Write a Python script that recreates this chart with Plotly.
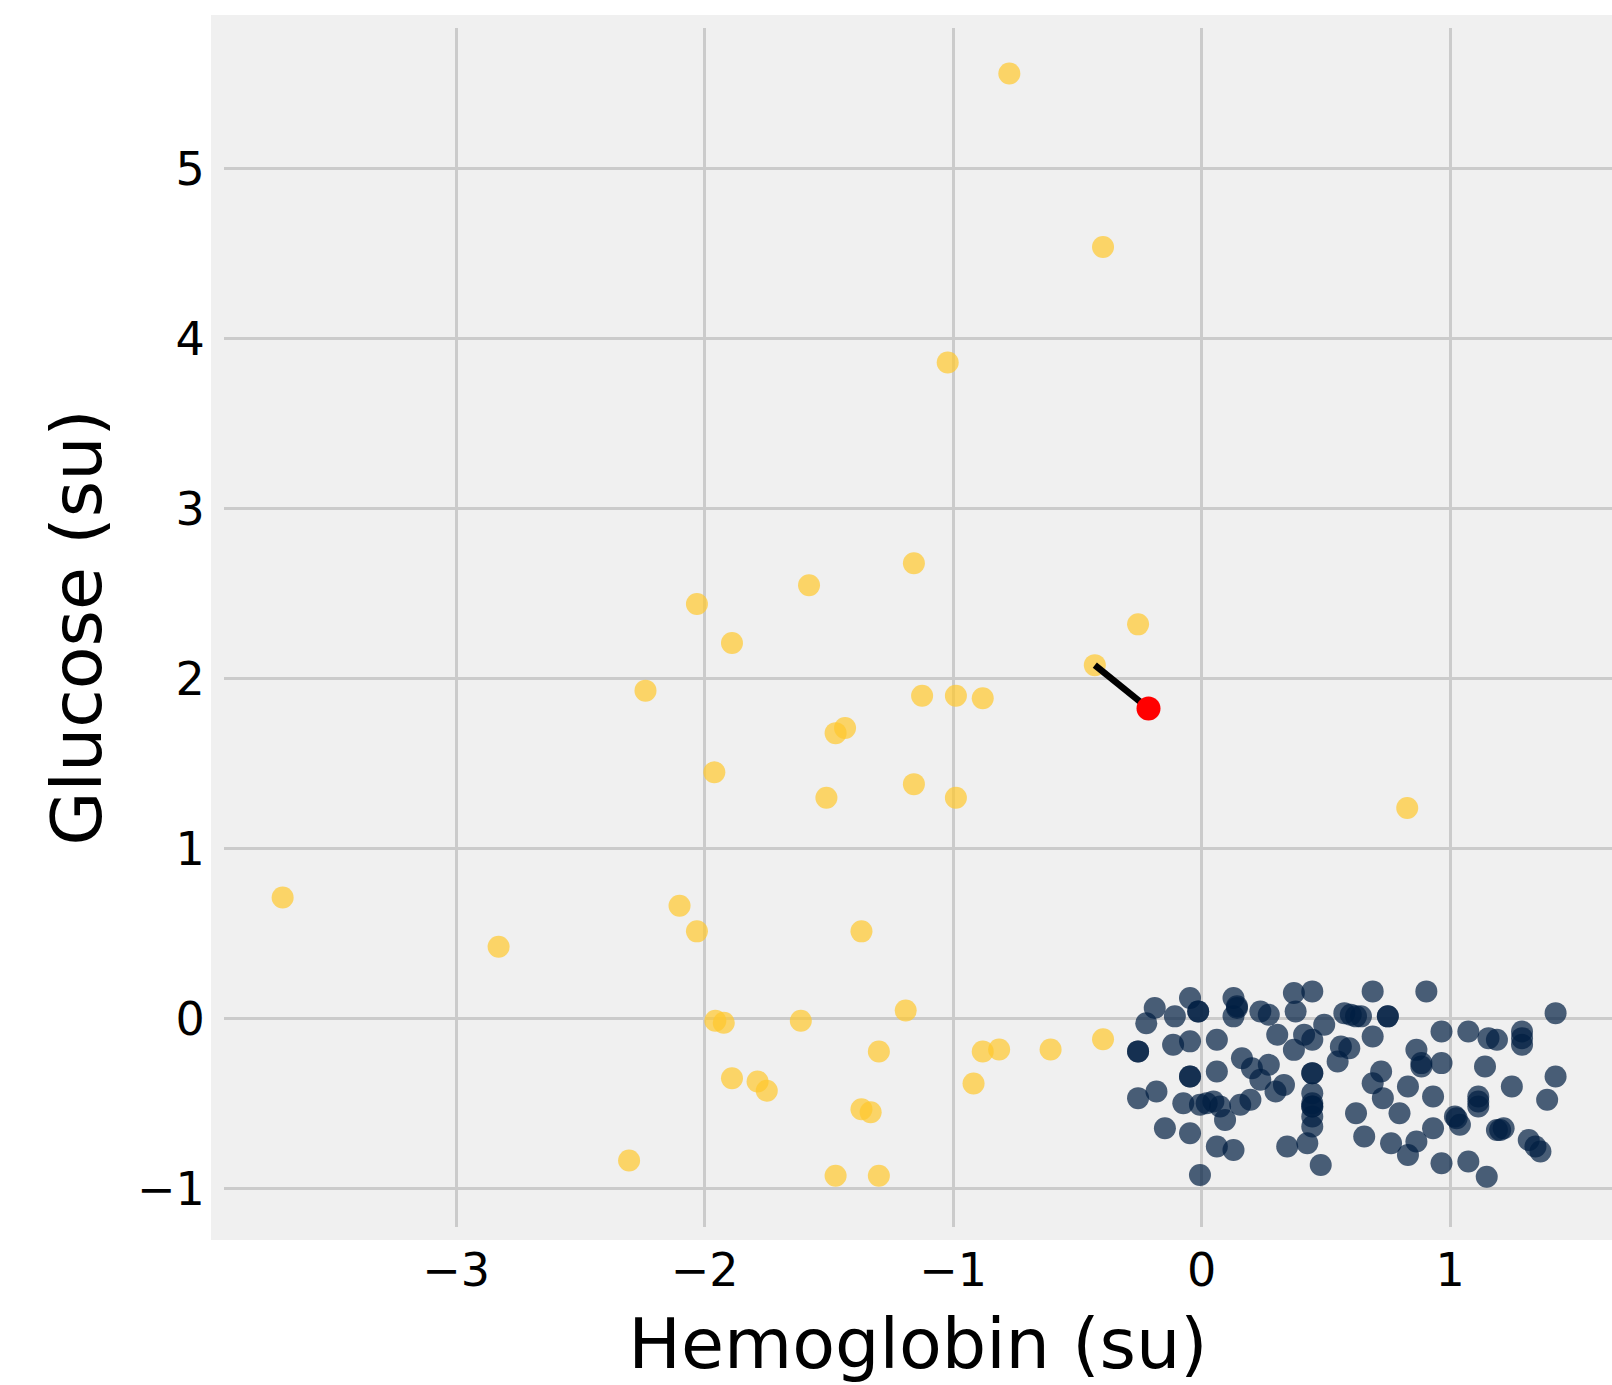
import plotly.graph_objects as go

# Standardized values (standard units) for the two classes
gold_x = [-0.774, -0.397, -1.022, -1.158, -1.580, -2.031, -1.890, -0.256, -0.430, -2.238,
          -1.125, -0.989, -0.881, -1.473, -1.435, -1.961, -1.510, -1.158, -0.989, 0.827,
          -3.698, -2.829, -2.101, -2.031, -1.369, -1.191, -1.957, -1.923, -1.613, -0.397,
          -0.608, -0.815, -0.881, -1.299, -1.890, -1.787, -1.750, -0.918, -1.369, -1.332,
          -2.304, -1.473, -1.299]
gold_y = [5.56, 4.54, 3.86, 2.68, 2.55, 2.44, 2.21, 2.32, 2.08, 1.93,
          1.90, 1.90, 1.885, 1.68, 1.71, 1.45, 1.30, 1.38, 1.30, 1.24,
          0.713, 0.423, 0.665, 0.514, 0.514, 0.048, -0.012, -0.024, -0.012, -0.121,
          -0.181, -0.181, -0.193, -0.193, -0.350, -0.369, -0.423, -0.381, -0.532, -0.550,
          -0.834, -0.924, -0.924]

blue_x = [-0.189, -0.223, -0.108, -0.047, -0.014, 0.128, 0.142, 0.128, 0.236, 0.270,
          0.371, 0.445, 0.378, 0.304, 0.371, 0.412, 0.445, 0.493, 0.574, 0.560,
          0.547, -0.256, -0.115, -0.047, 0.061, 0.162, 0.202, 0.270, 0.236, -0.047,
          0.061, 0.331, 0.297, 0.445, 0.445, 0.445, 0.445, 0.445, 0.425, 0.344,
          0.479, -0.256, -0.182, -0.074, -0.007, 0.047, 0.074, 0.094, 0.155, 0.196,
          -0.148, -0.047, 0.061, 0.128, -0.007,
          0.688, 0.904, 0.600, 0.641, 0.749, 0.688, 0.594, 0.864, 0.884, 0.965,
          0.722, 0.688, 0.830, 0.729, 0.931, 0.965, 1.073, 1.154, 1.188, 1.289,
          1.289, 1.424, 1.140, 1.424, 1.248, 1.390, 1.113, 1.113, 1.019, 1.039,
          0.621, 0.796, 0.654, 0.762, 0.864, 0.830, 0.931, 1.188, 1.215, 1.316,
          1.363, 0.965, 1.073, 1.147,
          -0.256, -0.047, 0.020, 0.445, 0.445, -0.014, 0.142, 0.445,
          0.621, 0.749, 0.884, 1.026, 1.113, 1.201, 1.289, 1.343]
blue_y = [0.063, -0.026, 0.014, 0.122, 0.043, 0.122, 0.063, 0.014, 0.043, 0.024,
          0.151, 0.161, 0.043, -0.094, -0.183, -0.094, -0.124, -0.035, 0.033, -0.163,
          -0.251, -0.192, -0.153, -0.133, -0.124, -0.232, -0.291, -0.271, -0.359, -0.340,
          -0.310, -0.389, -0.428, -0.320, -0.438, -0.516, -0.575, -0.634, -0.732, -0.752,
          -0.860, -0.467, -0.428, -0.497, -0.506, -0.487, -0.516, -0.595, -0.506, -0.477,
          -0.644, -0.673, -0.752, -0.772, -0.919,
          0.161, 0.161, 0.024, 0.014, 0.014, -0.104, -0.173, -0.183, -0.281, -0.261,
          -0.310, -0.379, -0.398, -0.467, -0.457, -0.075, -0.075, -0.114, -0.124, -0.075,
          -0.153, 0.033, -0.281, -0.340, -0.398, -0.477, -0.457, -0.516, -0.575, -0.624,
          -0.556, -0.556, -0.693, -0.732, -0.722, -0.801, -0.644, -0.654, -0.644, -0.713,
          -0.781, -0.850, -0.840, -0.929,
          -0.192, -0.340, -0.497, -0.320, -0.516, 0.043, 0.073, -0.497,
          0.014, 0.014, -0.261, -0.585, -0.487, -0.654, -0.114, -0.752]

# New point to classify and its nearest neighbour
new_x, new_y = -0.214, 1.825
nearest_idx = 8

x_ticks = [-3, -2, -1, 0, 1]
y_ticks = [-1, 0, 1, 2, 3, 4, 5]

FONT = "DejaVu Sans"
BG = "#f0f0f0"
GRID = "#cbcbcb"

fig = go.Figure()

fig.add_trace(go.Scatter(
    x=blue_x, y=blue_y, mode="markers",
    marker=dict(size=22, color="rgba(0,30,66,0.7)", line=dict(width=0)),
    showlegend=False,
))
fig.add_trace(go.Scatter(
    x=gold_x, y=gold_y, mode="markers",
    marker=dict(size=22, color="rgba(255,200,44,0.7)", line=dict(width=0)),
    showlegend=False,
))
fig.add_trace(go.Scatter(
    x=[gold_x[nearest_idx], new_x], y=[gold_y[nearest_idx], new_y], mode="lines",
    line=dict(color="black", width=6.5),
    showlegend=False,
))
fig.add_trace(go.Scatter(
    x=[new_x], y=[new_y], mode="markers",
    marker=dict(size=24, color="red", line=dict(width=0)),
    showlegend=False,
))

W, H = 1612, 1385
ml, mr, mt, mb = 224, 0, 28, 158
pw, ph = W - ml - mr, H - mt - mb
pad = 13

# Outer panel band around the gridded area (left, top and bottom)
fig.add_shape(
    type="rect", xref="paper", yref="paper",
    x0=-pad / pw, x1=1, y0=-pad / ph, y1=1 + pad / ph,
    fillcolor=BG, line=dict(width=0), layer="below",
)

fig.update_layout(
    width=W, height=H,
    margin=dict(l=ml, r=mr, t=mt, b=mb),
    paper_bgcolor="white",
    plot_bgcolor=BG,
    font=dict(family=FONT, color="black"),
)

fig.update_xaxes(
    range=[-3.934, 1.651],
    tickvals=x_ticks,
    showgrid=True, gridcolor=GRID, gridwidth=3,
    zeroline=False, showline=False,
    ticks="outside", ticklen=3, tickcolor="rgba(0,0,0,0)",
    tickfont=dict(size=46, family=FONT, color="black"),
    title=dict(text="Hemoglobin (su)", font=dict(size=70, family=FONT, color="black"), standoff=30),
)
fig.update_yaxes(
    range=[-1.225, 5.828],
    tickvals=y_ticks,
    showgrid=True, gridcolor=GRID, gridwidth=3,
    zeroline=False, showline=False,
    ticks="outside", ticklen=9, tickcolor="rgba(0,0,0,0)",
    tickfont=dict(size=46, family=FONT, color="black"),
    title=dict(text="Glucose (su)", font=dict(size=70, family=FONT, color="black"), standoff=12),
)

fig.write_html("out.html")
